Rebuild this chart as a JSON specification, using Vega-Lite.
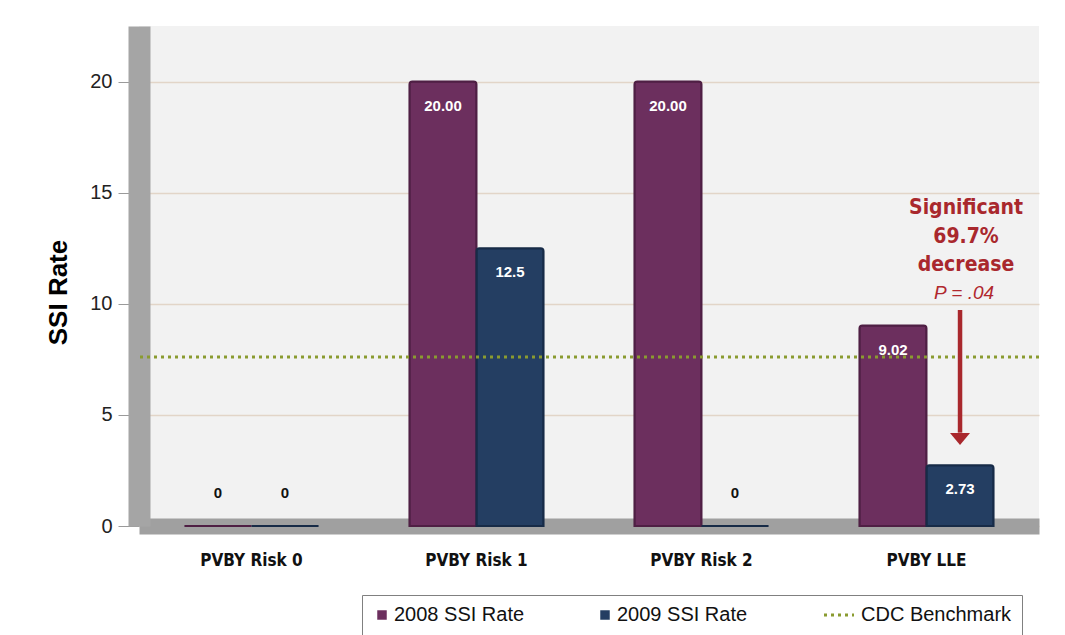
{
  "$schema": "https://vega.github.io/schema/vega-lite/v6.json",
  "width": 900,
  "height": 500,
  "autosize": {"type": "none"},
  "padding": {"left": 139, "top": 26, "right": 26, "bottom": 109},
  "background": "#ffffff",
  "config": {"view": {"fill": "#f2f2f2", "stroke": null}, "font": "Liberation Sans"},
  "datasets": {
    "rates": [
      {"category": "PVBY Risk 0", "series": "2008 SSI Rate", "value": 0, "label": "0"},
      {"category": "PVBY Risk 0", "series": "2009 SSI Rate", "value": 0, "label": "0"},
      {"category": "PVBY Risk 1", "series": "2008 SSI Rate", "value": 20.0, "label": "20.00"},
      {"category": "PVBY Risk 1", "series": "2009 SSI Rate", "value": 12.5, "label": "12.5"},
      {"category": "PVBY Risk 2", "series": "2008 SSI Rate", "value": 20.0, "label": "20.00"},
      {"category": "PVBY Risk 2", "series": "2009 SSI Rate", "value": 0, "label": "0"},
      {"category": "PVBY LLE", "series": "2008 SSI Rate", "value": 9.02, "label": "9.02"},
      {"category": "PVBY LLE", "series": "2009 SSI Rate", "value": 2.73, "label": "2.73"}
    ],
    "benchmark": [{"series": "CDC Benchmark", "value": 7.6}],
    "note": [{"category": "PVBY LLE", "series": "2009 SSI Rate", "y": 14.31, "text": "Significant\n69.7%\ndecrease"}],
    "pval": [{"category": "PVBY LLE", "series": "2009 SSI Rate", "y": 10.49, "text": "P = .04"}],
    "arrow": [{"category": "PVBY LLE", "series": "2009 SSI Rate", "from": 9.72, "to": 4.2}],
    "arrowhead": [{"category": "PVBY LLE", "series": "2009 SSI Rate", "y": 3.92}]
  },
  "layer": [
    {
      "data": {"name": "rates"},
      "mark": {"type": "bar", "cornerRadiusTopLeft": 3, "cornerRadiusTopRight": 3, "strokeWidth": 2},
      "encoding": {
        "x": {
          "field": "category", "type": "nominal",
          "scale": {"domain": ["PVBY Risk 0", "PVBY Risk 1", "PVBY Risk 2", "PVBY LLE"], "paddingInner": 0.404, "paddingOuter": 0.202},
          "axis": {
            "title": null, "labelAngle": 0,
            "labelFont": "DejaVu Sans Condensed, Liberation Sans Narrow, sans-serif",
            "labelFontSize": 17, "labelFontWeight": "bold", "labelColor": "#111111",
            "ticks": false, "tickSize": 0, "labelPadding": 26,
            "domainColor": "#a0a0a0", "domainWidth": 16
          }
        },
        "xOffset": {"field": "series", "type": "nominal", "scale": {"domain": ["2008 SSI Rate", "2009 SSI Rate"], "paddingInner": 0, "paddingOuter": 0}},
        "y": {
          "field": "value", "type": "quantitative",
          "scale": {"domain": [0, 22.5], "nice": false},
          "axis": {
            "values": [0, 5, 10, 15, 20],
            "title": "SSI Rate", "titleFont": "Liberation Sans", "titleFontSize": 26, "titleFontWeight": "bold",
            "titleColor": "#000000", "titlePadding": 18, "titleY": 266,
            "labelFont": "Liberation Sans", "labelFontSize": 20, "labelColor": "#222222", "labelPadding": 6,
            "tickSize": 21, "tickColor": "#9a9a9a",
            "domainColor": "#a5a5a5", "domainWidth": 22,
            "gridColor": "#e2d5c8", "gridWidth": 1.5
          }
        },
        "color": {
          "field": "series", "type": "nominal",
          "scale": {"domain": ["2008 SSI Rate", "2009 SSI Rate", "CDC Benchmark"], "range": ["#6c2f5e", "#243e62", "#8a9b30"]},
          "legend": {
            "title": null, "orient": "none", "legendX": 223, "legendY": 569, "direction": "horizontal",
            "symbolSize": 900, "symbolType": "square",
            "labelFont": "Liberation Sans", "labelFontSize": 20, "labelColor": "#111111", "labelOffset": 0,
            "columnPadding": 70, "padding": 10,
            "strokeColor": "#808080", "fillColor": "#ffffff",
            "encode": {
              "symbols": {"update": {
                "shape": {"signal": "datum.label === 'CDC Benchmark' ? 'stroke' : 'square'"},
                "size": {"signal": "datum.label === 'CDC Benchmark' ? 900 : 90"},
                "fill": {"signal": "datum.label === 'CDC Benchmark' ? 'transparent' : (datum.label === '2008 SSI Rate' ? '#6c2f5e' : '#243e62')"},
                "stroke": {"signal": "datum.label === 'CDC Benchmark' ? '#8a9b30' : 'transparent'"},
                "strokeWidth": {"signal": "datum.label === 'CDC Benchmark' ? 3 : 0"},
                "strokeDash": {"value": [3, 4]}
              }},
              "labels": {"update": {"dx": {"signal": "datum.label === 'CDC Benchmark' ? 12 : 2"}}}
            }
          }
        },
        "stroke": {
          "field": "series", "type": "nominal",
          "scale": {"domain": ["2008 SSI Rate", "2009 SSI Rate"], "range": ["#4f1f44", "#172b47"]},
          "legend": null
        }
      }
    },
    {
      "data": {"name": "benchmark"},
      "mark": {"type": "rule", "strokeDash": [3, 4], "strokeWidth": 3},
      "encoding": {
        "y": {"field": "value", "type": "quantitative"},
        "color": {"field": "series", "type": "nominal"}
      }
    },
    {
      "data": {"name": "rates"},
      "transform": [{"filter": "datum.value > 0"}],
      "mark": {"type": "text", "color": "#ffffff", "fontWeight": "bold", "fontSize": 15, "font": "Liberation Sans", "baseline": "middle", "dy": 24},
      "encoding": {
        "x": {"field": "category", "type": "nominal"},
        "xOffset": {"field": "series", "type": "nominal"},
        "y": {"field": "value", "type": "quantitative"},
        "text": {"field": "label"}
      }
    },
    {
      "data": {"name": "rates"},
      "transform": [{"filter": "datum.value == 0"}],
      "mark": {"type": "text", "color": "#111111", "fontWeight": "bold", "fontSize": 15, "font": "Liberation Sans", "baseline": "middle", "dy": -33},
      "encoding": {
        "x": {"field": "category", "type": "nominal"},
        "xOffset": {"field": "series", "type": "nominal"},
        "y": {"field": "value", "type": "quantitative"},
        "text": {"field": "label"}
      }
    },
    {
      "data": {"name": "arrow"},
      "mark": {"type": "rule", "color": "#a9282d", "strokeWidth": 4.5},
      "encoding": {
        "x": {"field": "category", "type": "nominal"},
        "xOffset": {"field": "series", "type": "nominal"},
        "y": {"field": "from", "type": "quantitative"},
        "y2": {"field": "to"}
      }
    },
    {
      "data": {"name": "arrowhead"},
      "mark": {"type": "point", "shape": "M-1,-0.6L1,-0.6L0,0.6Z", "filled": true, "color": "#a9282d", "size": 400, "opacity": 1},
      "encoding": {
        "x": {"field": "category", "type": "nominal"},
        "xOffset": {"field": "series", "type": "nominal"},
        "y": {"field": "y", "type": "quantitative"}
      }
    },
    {
      "data": {"name": "note"},
      "mark": {"type": "text", "color": "#a9282d", "fontWeight": "bold", "fontSize": 21, "font": "DejaVu Sans Condensed, Liberation Sans Narrow, sans-serif", "baseline": "middle", "align": "center", "lineBreak": "\n", "lineHeight": 28.5, "dx": 6},
      "encoding": {
        "x": {"field": "category", "type": "nominal"},
        "xOffset": {"field": "series", "type": "nominal"},
        "y": {"field": "y", "type": "quantitative"},
        "text": {"field": "text"}
      }
    },
    {
      "data": {"name": "pval"},
      "mark": {"type": "text", "color": "#b0282e", "fontStyle": "italic", "fontSize": 19, "font": "Liberation Sans", "baseline": "middle", "align": "center", "dx": 4},
      "encoding": {
        "x": {"field": "category", "type": "nominal"},
        "xOffset": {"field": "series", "type": "nominal"},
        "y": {"field": "y", "type": "quantitative"},
        "text": {"field": "text"}
      }
    }
  ]
}
